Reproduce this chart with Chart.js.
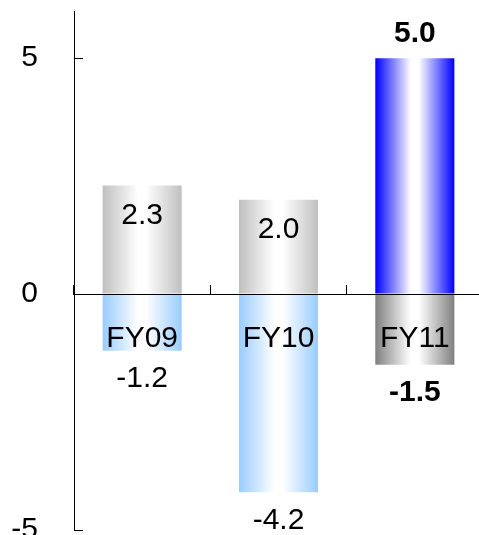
<!DOCTYPE html>
<html>
<head>
<meta charset="utf-8">
<script src="https://cdn.jsdelivr.net/npm/chart.js@4.4.0/dist/chart.umd.min.js"></script>
<style>
  html, body { margin: 0; padding: 0; background: #fff; overflow: hidden; }
  #wrap { width: 490px; height: 560px; }
</style>
</head>
<body>
<div id="wrap"><canvas id="fyChart"></canvas></div>
<script>
const years = ['FY09', 'FY10', 'FY11'];
const gains = [2.3, 2.0, 5.0];
const losses = [-1.2, -4.2, -1.5];
const gainColors = ['#c0c0c0', '#c0c0c0', '#0000ff'];
const lossColors = ['#99ccff', '#99ccff', '#808080'];
const highlight = 2; // FY11 gets bold labels, gain label above the bar
const yTicks = [-5, 0, 5];

const FONT = '"Liberation Sans", Arial, sans-serif';
const BAR_PCT = 0.58;

// cylinder look: colour at the edges, white in the middle
function barGradient(colors) {
    return function (c) {
        const chart = c.chart;
        const base = colors[c.dataIndex];
        if (!chart.chartArea) return base;
        const xs = chart.scales.x;
        const cx = xs.getPixelForValue(c.dataIndex);
        const half = xs.width / years.length * BAR_PCT / 2;
        const g = chart.ctx.createLinearGradient(cx - half, 0, cx + half, 0);
        g.addColorStop(0, base);
        g.addColorStop(0.45, '#ffffff');
        g.addColorStop(0.55, '#ffffff');
        g.addColorStop(1, base);
        return g;
    };
}

const valueLabels = {
    id: 'valueLabels',
    afterDatasetsDraw(chart) {
        const ctx = chart.ctx;
        ctx.save();
        ctx.fillStyle = '#000';
        ctx.textAlign = 'center';
        ctx.textBaseline = 'middle';
        chart.data.datasets.forEach((ds, di) => {
            chart.getDatasetMeta(di).data.forEach((bar, i) => {
                const v = ds.data[i];
                const bold = i === highlight;
                ctx.font = (bold ? 'bold ' : '') + '30px ' + FONT;
                let y;
                if (v >= 0) y = bold ? bar.y - 24 : bar.y + 30;
                else y = bar.y + 28;
                ctx.fillText(v.toFixed(1), bar.x, y);
            });
        });
        ctx.restore();
    }
};

new Chart(document.getElementById('fyChart'), {
    type: 'bar',
    data: {
        labels: years,
        datasets: [
            { data: gains, backgroundColor: barGradient(gainColors) },
            { data: losses, backgroundColor: barGradient(lossColors) }
        ]
    },
    options: {
        responsive: true,
        maintainAspectRatio: false,
        animation: false,
        layout: { padding: { top: 11, right: 7, bottom: 30, left: 0 } },
        datasets: { bar: { barPercentage: BAR_PCT, categoryPercentage: 1, borderWidth: 0 } },
        plugins: { legend: { display: false }, tooltip: { enabled: false } },
        scales: {
            x: {
                stacked: true,
                position: { y: 0 },
                // zero line, ticks and year names go over the bars
                grid: { display: true, drawOnChartArea: false, offset: true, tickLength: -10, color: '#000', lineWidth: 1, z: 1 },
                border: { display: true, color: '#000', width: 1, z: 1 },
                ticks: { color: '#000', padding: 37, maxRotation: 0, z: 1, font: { family: FONT, size: 30 } },
                afterFit(s) { s.height = 0; s.paddingLeft = 0; s.paddingRight = 0; }
            },
            y: {
                stacked: true,
                min: -5,
                max: 6,
                afterBuildTicks(s) { s.ticks = yTicks.map(v => ({ value: v })); },
                grid: { display: true, drawOnChartArea: false, tickLength: -9, color: '#000' },
                border: { display: true, color: '#000', width: 1 },
                ticks: { color: '#000', padding: 45, font: { family: FONT, size: 30 } },
                afterFit(s) { s.width = 74; s.paddingTop = 0; s.paddingBottom = 0; }
            }
        }
    },
    plugins: [valueLabels]
});
</script>
</body>
</html>
